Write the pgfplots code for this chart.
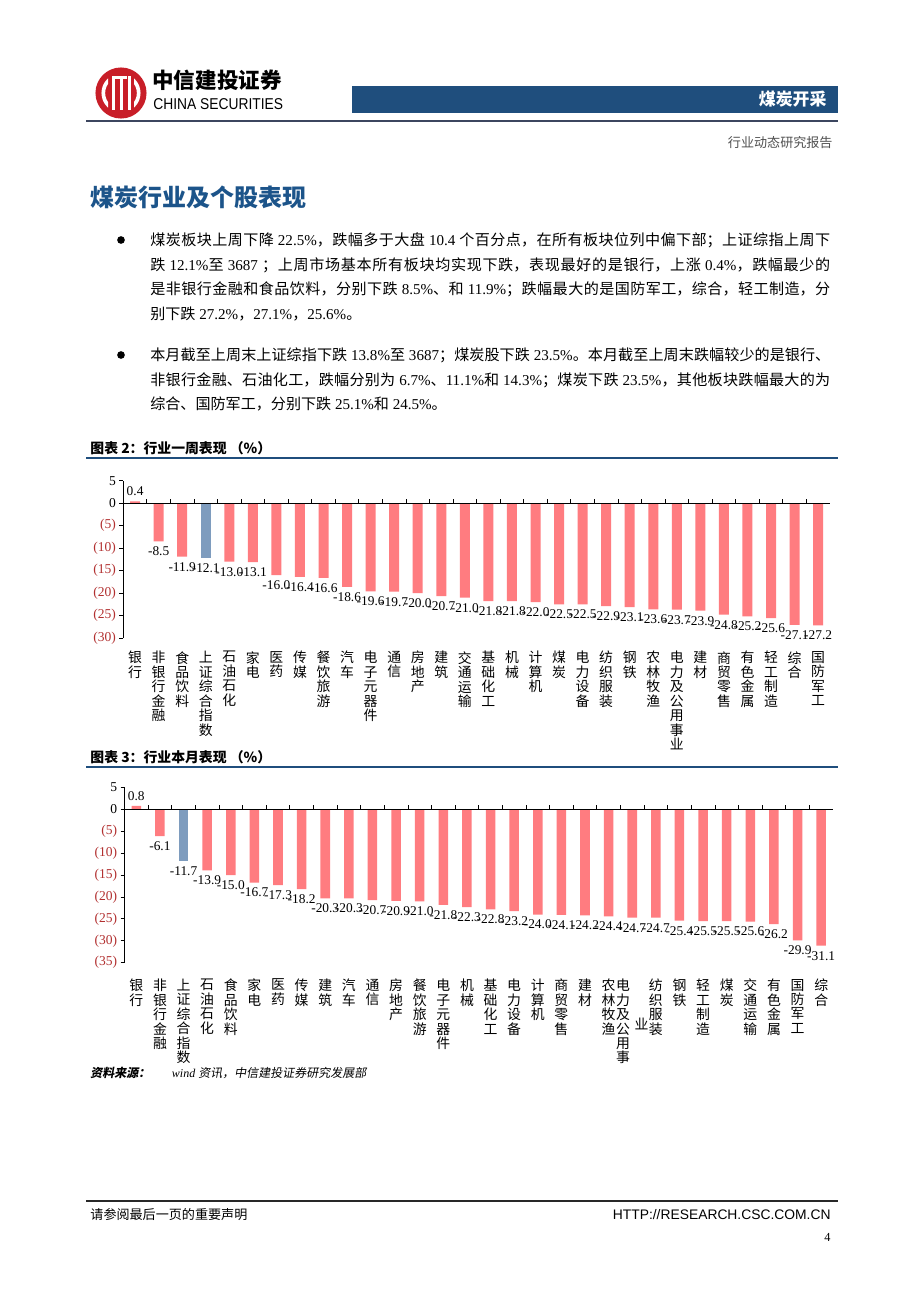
\documentclass[border=0pt]{standalone}
\usepackage{fontspec}
\usepackage{graphicx}
\usepackage{pgfplots}
\pgfplotsset{compat=1.18}
\setmainfont{Noto Sans CJK SC}
\newfontfamily\lat{Liberation Serif}
\newfontfamily\sans{Liberation Sans}
\newfontfamily\cjksl{Noto Sans CJK SC}[FakeSlant=0.18]
\definecolor{barred}{RGB}{255,124,128}
\definecolor{barblue}{RGB}{126,156,190}
\definecolor{tred}{RGB}{178,48,48}
\definecolor{navy}{RGB}{31,78,125}
\definecolor{titleblue}{RGB}{28,84,138}
\definecolor{logored}{RGB}{200,30,40}
\newcommand\rp[1]{\textcolor{tred}{#1}}
\newlength\vtw \setlength\vtw{9.6pt}
\let\vtend\relax
\def\vtx#1{\ifx#1\vtend\else\hbox to\vtw{\hss#1\hss}\expandafter\vtx\fi}
\newcommand\vt[1]{\vbox{\baselineskip=9.4pt\lineskiplimit=-20pt\lineskip=0pt\vtx#1\vtend}}
\newcommand\vtt[2]{\hbox{\vt{#1}\kern2.5pt\raise21.6pt\hbox to\vtw{\hss#2\hss}}}
\newcommand\jline[1]{\parbox[b]{442pt}{\XeTeXlinebreaklocale "zh"\XeTeXlinebreakskip=0pt plus 2pt minus 0.3pt\tolerance=10000\hbadness=10000\parfillskip=0pt\noindent#1}}
\newcommand\body{\fontsize{9.8}{12}\selectfont}
\pgfplotsset{cbar/.style={anchor=south west, scale only axis, xmin=-0.5, xmax=29.5, enlargelimits=false,
  axis y line*=left, axis x line*=bottom, x axis line style={draw=none}, y axis line style={line width=0.6pt},
  xtick={0,...,29}, xtick style={draw=none}, xtick align=inside,
  xticklabel style={anchor=north, inner sep=0pt, font=\fontsize{9}{9.4}\selectfont},
  ytick style={black, line width=0.6pt}, ytick align=outside, major tick length=2.6pt,
  yticklabel style={font=\lat\fontsize{8.8}{9}\selectfont, inner sep=2pt},
  ybar, clip=false,
  nodes near coords={\pgfmathprintnumber[fixed,fixed zerofill,precision=1,assume math mode=true]{\pgfplotspointmeta}},
  nodes near coords align=vertical,
  every node near coord/.append style={font=\lat\fontsize{8.7}{9}\selectfont, inner sep=3.4pt, black}}}
\begin{document}
\begin{tikzpicture}[x=0.65pt,y=-0.65pt]
\path[use as bounding box] (0,0) rectangle (920,1302);
\fill[white] (0,0) rectangle (920,1302);
% logo
\fill[logored] (121,93) circle (16.6pt);
\begin{scope}
\clip (121,93) circle (15pt);
\fill[white] (111.5,76) rectangle (114.5,110);
\fill[white] (119.5,76) rectangle (122.5,110);
\fill[white] (127.5,76) rectangle (130.5,110);
\fill[white] (115,76) rectangle (127,79);
\begin{scope}
\clip (96,60) rectangle (108,126) (134,60) rectangle (146,126);
\draw[white,line width=2.4pt] (121,93) circle (11.5pt);
\end{scope}
\end{scope}
\node[anchor=west,font=\fontsize{14}{16}\selectfont\bfseries] at (147,80) {中信建投证券};
\node[anchor=west,font=\sans\fontsize{10.2}{12}\selectfont] at (148,104) {\scalebox{0.88}[1]{CHINA SECURITIES}};
\fill[navy] (352,86) rectangle (838,113);
\node[anchor=east,text=white,font=\fontsize{11}{12}\selectfont\bfseries] at (832,99.5) {煤炭开采};
\draw[line width=1.6pt, color={rgb,255:red,60;green,70;blue,95}] (86,121) -- (838,121);
\node[anchor=east,text={rgb,255:red,80;green,80;blue,80},font=\fontsize{8.5}{10}\selectfont] at (838,143) {行业动态研究报告};
% title
\node[anchor=west,text=titleblue,font=\fontsize{15.6}{18}\selectfont\bfseries] at (85,197) {煤炭行业及个股表现};
% bullets
\fill (121,240) circle (2.5pt);
\fill (121,355) circle (2.5pt);
\node[anchor=base west,font=\body,inner sep=0pt] at (150,245.5) {\jline{煤炭板块上周下降{\lat\ 22.5\%}，跌幅多于大盘{\lat\ 10.4 }个百分点，在所有板块位列中偏下部；上证综指上周下}};
\node[anchor=base west,font=\body,inner sep=0pt] at (150,270) {\jline{跌{\lat\ 12.1\%}至{\lat\ 3687 }；上周市场基本所有板块均实现下跌，表现最好的是银行，上涨{\lat\ 0.4\%}，跌幅最少的}};
\node[anchor=base west,font=\body,inner sep=0pt] at (150,294.5) {\jline{是非银行金融和食品饮料，分别下跌{\lat\ 8.5\%}、和{\lat\ 11.9\%}；跌幅最大的是国防军工，综合，轻工制造，分}};
\node[anchor=base west,font=\body,inner sep=0pt] at (150,319) {别下跌{\lat\ 27.2\%}，{\lat 27.1\%}，{\lat 25.6\%}。};
\node[anchor=base west,font=\body,inner sep=0pt] at (150,360.5) {\jline{本月截至上周末上证综指下跌{\lat\ 13.8\%}至{\lat\ 3687}；煤炭股下跌{\lat\ 23.5\%}。本月截至上周末跌幅较少的是银行、}};
\node[anchor=base west,font=\body,inner sep=0pt] at (150,385) {\jline{非银行金融、石油化工，跌幅分别为{\lat\ 6.7\%}、{\lat 11.1\%}和{\lat\ 14.3\%}；煤炭下跌{\lat\ 23.5\%}，其他板块跌幅最大的为}};
\node[anchor=base west,font=\body,inner sep=0pt] at (150,409.5) {综合、国防军工，分别下跌{\lat\ 25.1\%}和{\lat\ 24.5\%}。};
% chart titles
\node[anchor=west,font=\fontsize{9}{10}\selectfont\bfseries] at (85,448) {图表 2：行业一周表现 （\%）};
\draw[navy,line width=1.4pt] (86,458) -- (838,458);
\node[anchor=west,font=\fontsize{9}{10}\selectfont\bfseries] at (85,757) {图表 3：行业本月表现 （\%）};
\draw[navy,line width=1.4pt] (86,767) -- (838,767);
\begin{scope}[x=1pt,y=1pt]
\begin{axis}[cbar, at={(80.15pt,-414.7pt)}, width=459.3pt, height=102.2pt, ymin=-30, ymax=5,
  ytick={-30,-25,...,5}, yticklabels={\rp{(30)},\rp{(25)},\rp{(20)},\rp{(15)},\rp{(10)},\rp{(5)},0,5},
  xticklabels={\vt{银行},\vt{非银行金融},\vt{食品饮料},\vt{上证综合指数},\vt{石油石化},\vt{家电},\vt{医药},\vt{传媒},\vt{餐饮旅游},\vt{汽车},\vt{电子元器件},\vt{通信},\vt{房地产},\vt{建筑},\vt{交通运输},\vt{基础化工},\vt{机械},\vt{计算机},\vt{煤炭},\vt{电力设备},\vt{纺织服装},\vt{钢铁},\vt{农林牧渔},\vt{电力及公用事业},\vt{建材},\vt{商贸零售},\vt{有色金属},\vt{轻工制造},\vt{综合},\vt{国防军工}},
  xticklabel style={yshift=-5.85pt}, bar width=6.5pt]
\addplot[fill=barred, draw=none, bar shift=0pt] coordinates {(0,0.4) (1,-8.5) (2,-11.9) (4,-13.0) (5,-13.1) (6,-16.0) (7,-16.4) (8,-16.6) (9,-18.6) (10,-19.6) (11,-19.7) (12,-20.0) (13,-20.7) (14,-21.0) (15,-21.8) (16,-21.8) (17,-22.0) (18,-22.5) (19,-22.5) (20,-22.9) (21,-23.1) (22,-23.6) (23,-23.7) (24,-23.9) (25,-24.8) (26,-25.2) (27,-25.6) (28,-27.1) (29,-27.2)};
\addplot[fill=barblue, draw=none, bar shift=0pt] coordinates {(3,-12.1)};
\draw[black, line width=0.6pt] (axis cs:-0.5,0) -- (axis cs:29.5,0);
\pgfplotsinvokeforeach{0.5,1.5,...,28.5}{\draw[black,line width=0.5pt] (axis cs:#1,0) -- ++(0pt,2.6pt);}
\end{axis}
\begin{axis}[cbar, at={(80.93pt,-625.76pt)}, width=460.5pt, height=113.9pt, ymin=-35, ymax=5,
  ytick={-35,-30,...,5}, yticklabels={\rp{(35)},\rp{(30)},\rp{(25)},\rp{(20)},\rp{(15)},\rp{(10)},\rp{(5)},0,5},
  xticklabels={\vt{银行},\vt{非银行金融},\vt{上证综合指数},\vt{石油石化},\vt{食品饮料},\vt{家电},\vt{医药},\vt{传媒},\vt{建筑},\vt{汽车},\vt{通信},\vt{房地产},\vt{餐饮旅游},\vt{电子元器件},\vt{机械},\vt{基础化工},\vt{电力设备},\vt{计算机},\vt{商贸零售},\vt{建材},\vt{农林牧渔},\vtt{电力及公用事}{业},\vt{纺织服装},\vt{钢铁},\vt{轻工制造},\vt{煤炭},\vt{交通运输},\vt{有色金属},\vt{国防军工},\vt{综合}},
  xticklabel style={yshift=-7.8pt}, bar width=6.2pt]
\addplot[fill=barred, draw=none, bar shift=0pt] coordinates {(0,0.8) (1,-6.1) (3,-13.9) (4,-15.0) (5,-16.7) (6,-17.3) (7,-18.2) (8,-20.3) (9,-20.3) (10,-20.7) (11,-20.9) (12,-21.0) (13,-21.8) (14,-22.3) (15,-22.8) (16,-23.2) (17,-24.0) (18,-24.1) (19,-24.2) (20,-24.4) (21,-24.7) (22,-24.7) (23,-25.4) (24,-25.5) (25,-25.5) (26,-25.6) (27,-26.2) (28,-29.9) (29,-31.1)};
\addplot[fill=barblue, draw=none, bar shift=0pt] coordinates {(2,-11.7)};
\draw[black, line width=0.6pt] (axis cs:-0.5,0) -- (axis cs:29.5,0);
\pgfplotsinvokeforeach{0.5,1.5,...,28.5}{\draw[black,line width=0.5pt] (axis cs:#1,0) -- ++(0pt,2.6pt);}
\end{axis}
\end{scope}
% source
\node[anchor=west,font=\fontsize{7.8}{9}\selectfont] at (85,1073) {{\cjksl\bfseries 资料来源：}\hspace{14pt}{\lat\itshape wind }{\cjksl 资讯，中信建投证券研究发展部}};
% footer
\draw[line width=0.8pt, color={rgb,255:red,40;green,40;blue,40}] (86,1201) -- (838,1201);
\node[anchor=west,font=\fontsize{8.5}{10}\selectfont] at (85,1215) {请参阅最后一页的重要声明};
\node[anchor=east,font=\sans\fontsize{9}{10}\selectfont] at (836,1215) {HTTP://RESEARCH.CSC.COM.CN};
\node[anchor=east,font=\lat\fontsize{8}{9}\selectfont] at (836,1237) {4};
\end{tikzpicture}
\end{document}
